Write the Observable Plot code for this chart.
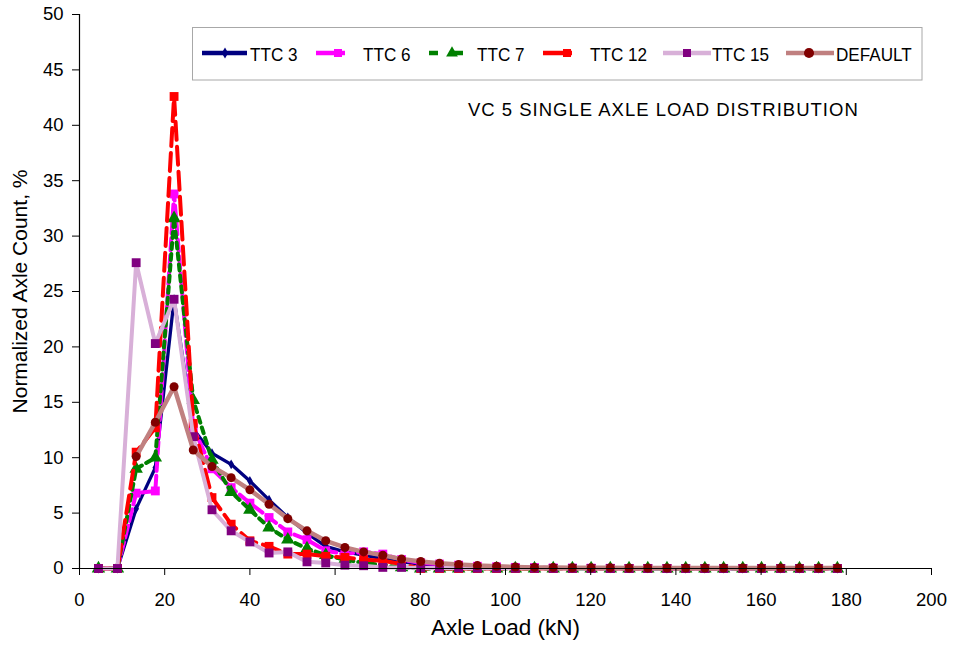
<!DOCTYPE html>
<html>
<head>
<meta charset="utf-8">
<script src="https://cdn.jsdelivr.net/npm/d3@7"></script>
<script src="https://cdn.jsdelivr.net/npm/@observablehq/plot@0.6"></script>
<style>
  body { margin: 0; background: #fff; font-family: "Liberation Sans", Arial, sans-serif; }
  #wrap { position: relative; width: 953px; height: 649px; }
  #overlay { position: absolute; left: 0; top: 0; }
</style>
</head>
<body>
<div id="wrap"></div>
<script>
const loadKN = [4.45, 8.9, 13.3, 17.8, 22.2, 26.7, 31.1, 35.6, 40.0, 44.5, 48.9, 53.4, 57.8, 62.3, 66.7, 71.2, 75.6, 80.1, 84.5, 89.0,
  93.4, 97.9, 102.3, 106.8, 111.2, 115.7, 120.1, 124.6, 129.0, 133.4, 137.9, 142.3, 146.8, 151.2, 155.7, 160.1, 164.6, 169.0, 173.5, 177.9];

const ttc3 = [0, 0, 5.4, 9.1, 24.3, 12.6, 10.4, 9.4, 7.9, 6.2, 4.6, 3.2, 2.0, 1.5, 1.2, 0.9, 0.6, 0.4, 0.3, 0.2,
  0.15, 0.1, 0.08, 0.05, 0.04, 0.03, 0.02, 0.02, 0.01, 0.01, 0, 0, 0, 0, 0, 0, 0, 0, 0, 0];
const ttc6 = [0, 0, 6.8, 7.0, 33.8, 12.7, 9.0, 7.3, 5.9, 4.6, 3.3, 2.6, 1.6, 1.3, 1.5, 1.3, 0.8, 0.5, 0.4, 0.3,
  0.2, 0.15, 0.1, 0.08, 0.05, 0.04, 0.03, 0.02, 0.01, 0.01, 0, 0, 0, 0, 0, 0, 0, 0, 0, 0];
const ttc7 = [0, 0, 9.0, 10.0, 31.6, 15.2, 9.8, 6.9, 5.3, 3.7, 2.6, 1.8, 1.2, 0.8, 0.5, 0.3, 0.1, 0, 0, 0,
  0, 0, 0, 0, 0, 0, 0, 0, 0, 0, 0, 0, 0, 0, 0, 0, 0, 0, 0, 0];
const ttc12 = [0, 0, 10.5, 12.7, 42.6, 13.1, 6.4, 4.0, 2.5, 2.0, 1.3, 1.3, 1.1, 1.0, 0.8, 0.7, 0.4, 0, 0, 0,
  0, 0, 0, 0, 0, 0, 0, 0, 0, 0, 0, 0, 0, 0, 0, 0, 0, 0, 0, 0];
const ttc15 = [0, 0, 27.6, 20.3, 24.3, 11.9, 5.3, 3.4, 2.4, 1.4, 1.5, 0.6, 0.5, 0.3, 0.25, 0.1, 0.1, 0.05, 0.05, 0.05,
  0.03, 0.03, 0.02, 0.02, 0.01, 0.01, 0, 0, 0, 0, 0, 0, 0, 0, 0, 0, 0, 0, 0, 0];
const defaultDist = [null, null, 10.1, 13.2, 16.4, 10.7, 9.2, 8.2, 7.1, 5.8, 4.5, 3.4, 2.5, 1.9, 1.5, 1.2, 0.85, 0.63, 0.48, 0.36,
  0.26, 0.2, 0.14, 0.1, 0.08, 0.07, 0.06, 0.06, 0.05, 0.05, 0.05, 0.05, 0.05, 0.05, 0.05, 0.05, 0.05, 0.05, 0.05, 0.05];

const seriesNames = ["TTC 3", "TTC 6", "TTC 7", "TTC 12", "TTC 15", "DEFAULT"];
const seriesValues = [ttc3, ttc6, ttc7, ttc12, ttc15, defaultDist];
const xTicks = [0, 20, 40, 60, 80, 100, 120, 140, 160, 180, 200];
const yTicks = [0, 5, 10, 15, 20, 25, 30, 35, 40, 45, 50];
const chartTitle = "VC 5 SINGLE AXLE LOAD DISTRIBUTION";
const xLabel = "Axle Load (kN)";
const yLabel = "Normalized Axle Count, %";

const styles = {
  "TTC 3":   {line: "#000080", width: 3.3, dash: null,   sym: "diamond",  mark: "#000080", r: 3},
  "TTC 6":   {line: "#ff00ff", width: 4,   dash: "12,5", sym: "square",   mark: "#ff00ff", r: 5},
  "TTC 7":   {line: "#008000", width: 4,   dash: "6,5",  sym: "triangle", mark: "#008000", r: 5},
  "TTC 12":  {line: "#ff0000", width: 4,   dash: "18,7", sym: "square",   mark: "#ff0000", r: 5},
  "TTC 15":  {line: "#d8b0d8", width: 4,   dash: null,   sym: "square",   mark: "#800080", r: 5},
  "DEFAULT": {line: "#c08080", width: 4.5, dash: null,   sym: "circle",   mark: "#800000", r: 4.5}
};

const marks = [];
seriesNames.forEach((name, i) => {
  const s = styles[name];
  const data = loadKN.map((x, j) => ({x, y: seriesValues[i][j]})).filter(d => d.y != null);
  marks.push(Plot.line(data, {x: "x", y: "y", stroke: s.line, strokeWidth: s.width, strokeDasharray: s.dash, strokeLinejoin: "round"}));
  marks.push(Plot.dot(data, {x: "x", y: "y", symbol: () => s.sym, fill: s.mark, r: s.r, stroke: "none"}));
});

const chart = Plot.plot({
  width: 953,
  height: 649,
  marginLeft: 79,
  marginRight: 22,
  marginTop: 14,
  marginBottom: 81,
  style: {fontFamily: "'Liberation Sans', Arial, sans-serif", fontSize: "18.5px", color: "#000", background: "#fff"},
  x: {domain: [0, 200], label: null},
  y: {domain: [0, 50], label: null},
  marks: [
    ...marks,
    Plot.ruleX([0], {stroke: "#000", strokeWidth: 1.2}),
    Plot.ruleY([0], {stroke: "#000", strokeWidth: 1.2}),
    Plot.axisX({ticks: xTicks, tickSize: 7, tickPadding: 17, fontSize: 18.5, label: null}),
    Plot.axisY({ticks: yTicks, tickSize: 7, tickPadding: 9, fontSize: 18.5, label: null}),
    Plot.text([xLabel], {frameAnchor: "bottom", dy: 66, fontSize: 22.5, text: d => d}),
    Plot.text([yLabel], {frameAnchor: "left", dx: -59, rotate: -90, textAnchor: "middle", fontSize: 21, text: d => d})
  ]
});

const wrap = document.getElementById("wrap");
wrap.appendChild(chart);

// Overlay: legend box and inner title
const ns = "http://www.w3.org/2000/svg";
const ov = document.createElementNS(ns, "svg");
ov.setAttribute("id", "overlay");
ov.setAttribute("width", 953);
ov.setAttribute("height", 649);
ov.style.fontFamily = "'Liberation Sans', Arial, sans-serif";
function el(tag, attrs) {
  const e = document.createElementNS(ns, tag);
  for (const k in attrs) e.setAttribute(k, attrs[k]);
  ov.appendChild(e);
  return e;
}
el("rect", {x: 192.5, y: 27.5, width: 729.5, height: 52.5, fill: "#fff", stroke: "#a8a8a8", "stroke-width": 1});

// legend entries: [line start, line end, marker x, label x]
const legendLayout = [[202, 247, 225, 250], [316, 345, 338, 363], [429, 463, 452, 477], [543, 572, 567, 590], [663, 711, 687, 712], [786, 834, 809, 836]];
const symPath = {
  diamond: d3.symbol(d3.symbolDiamond, 36)(),
  square: d3.symbol(d3.symbolSquare, 64)(),
  triangle: d3.symbol(d3.symbolTriangle, 60)(),
  circle: d3.symbol(d3.symbolCircle, 80)()
};
const legendY = 53;
seriesNames.forEach((name, i) => {
  const s = styles[name];
  const [l0, l1, mx, tx] = legendLayout[i];
  const ln = el("line", {x1: l0, x2: l1, y1: legendY, y2: legendY, stroke: s.line, "stroke-width": 4.5});
  if (name === "TTC 7") ln.setAttribute("stroke-dasharray", "9,14,12");
  el("path", {d: symPath[s.sym], fill: s.mark, transform: `translate(${mx},${legendY})`});
  const t = el("text", {transform: `translate(${tx},61) scale(0.9,1)`, "font-size": 19, fill: "#000"});
  t.textContent = name;
});
const tt = el("text", {x: 468, y: 116, "font-size": 18.5, "letter-spacing": "1px", fill: "#000"});
tt.textContent = chartTitle;
wrap.appendChild(ov);
</script>
</body>
</html>
